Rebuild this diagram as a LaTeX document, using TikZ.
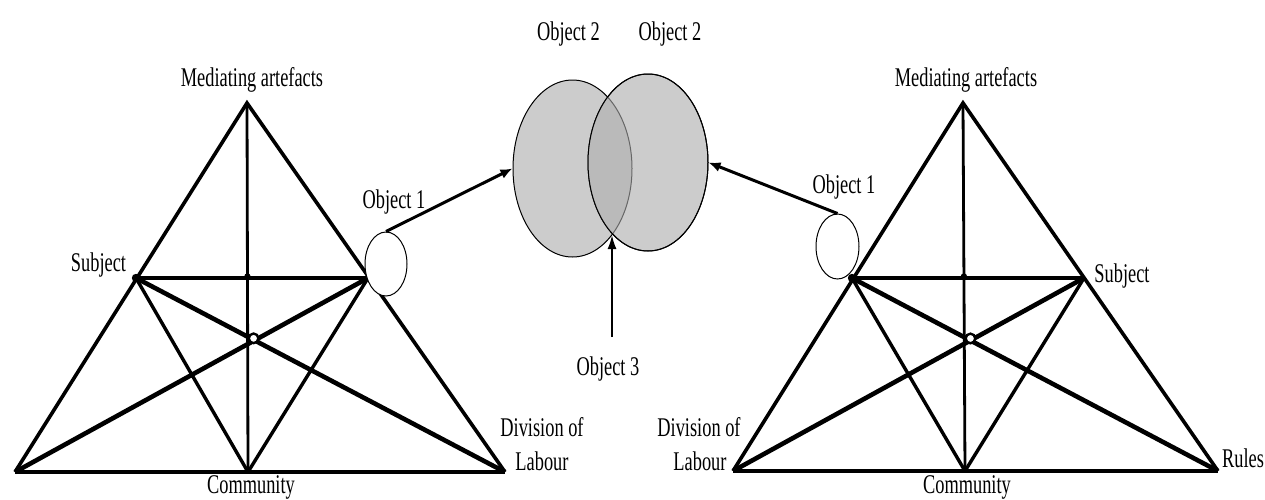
\documentclass[tikz,border=0pt]{standalone}
\usepackage{fontspec}
\newfontfamily\labfont{Liberation Serif}[FakeStretch=0.68]
\usetikzlibrary{shapes.geometric,arrows.meta}
\definecolor{objgray}{gray}{0.80}
\definecolor{ovgray}{gray}{0.73}
\definecolor{ovline}{gray}{0.40}
\begin{document}
\begin{tikzpicture}[x=0.5pt,y=-0.5pt,
  lab/.style={font=\labfont\fontsize{13.5}{16}\selectfont, inner sep=0pt, anchor=base},
  side/.style={line width=1.8pt, line join=miter},
  heavy/.style={line width=2.3pt},
  midline/.style={line width=1.7pt},
  vert/.style={line width=1.4pt},
  smallobj/.style={ellipse, draw, line width=0.5pt, fill=white, inner sep=0pt},
  bigobj/.style={ellipse, draw, line width=0.5pt, fill=objgray, inner sep=0pt, minimum height=88.5pt},
  arr/.style={line width=1.5pt, -{Latex[length=6pt,width=5pt]}},
  arrthin/.style={line width=1pt, -{Latex[length=7pt,width=4.5pt]}},
  bigdot/.style={fill=black},
  ring/.style={draw, line width=1.2pt, fill=white}]
\useasboundingbox (0,0) rectangle (1265,499);

% ---------- central objects ----------
\node[bigobj, minimum width=59.5pt] (bigL) at (572.5,168.5) {};
\node[bigobj, minimum width=60pt] (bigR) at (648,162.5) {};
\begin{scope}
  \clip (648,162.5) ellipse [x radius=30pt, y radius=44.25pt];
  \fill[ovgray] (572.5,168.5) ellipse [x radius=29.75pt, y radius=44.25pt];
  \draw[ovline, line width=0.5pt] (572.5,168.5) ellipse [x radius=29.75pt, y radius=44.25pt];
\end{scope}
\draw[line width=0.5pt] (648,162.5) ellipse [x radius=30pt, y radius=44.25pt];

% ---------- left triangle ----------
\coordinate (LA) at (247,103);
\coordinate (LBL) at (15,472);
\coordinate (LBR) at (505,472);
\coordinate (LC) at (248,472);
\coordinate (LS) at (136,278);
\coordinate (LO) at (368,278);

\draw[side] (LBL) -- (LA) -- (LBR);
\draw[heavy] (LBL) -- (LBR);
\draw[vert] (LA) -- (LC);
\draw[heavy] (LS) -- (LO);
\draw[heavy] (LS) -- (LBR);
\draw[heavy] (LO) -- (LBL);
\draw[midline] (LS) -- (LC);
\draw[midline] (LO) -- (LC);
\fill[bigdot] (LS) circle (2.1pt);
\fill[bigdot] (intersection of LA--LC and LS--LO) ++(0,-1.5) circle (1.6pt);
\fill[bigdot] (intersection of LS--LC and LO--LBL) circle (1.5pt);
\fill[bigdot] (intersection of LO--LC and LS--LBR) circle (1.5pt);
\draw[ring] (intersection of LS--LBR and LO--LBL) ++(-1,-2) circle (2.4pt);

% ---------- right triangle ----------
\coordinate (RA) at (963,103);
\coordinate (RBL) at (733,471);
\coordinate (RBR) at (1218,471);
\coordinate (RC) at (965,471);
\coordinate (RO) at (852,278);
\coordinate (RS) at (1084,278);

\draw[side] (RBL) -- (RA) -- (RBR);
\draw[heavy] (RBL) -- (RBR);
\draw[vert] (RA) -- (RC);
\draw[heavy] (RO) -- (RS);
\draw[heavy] (RO) -- (RBR);
\draw[heavy] (RS) -- (RBL);
\draw[midline] (RO) -- (RC);
\draw[midline] (RS) -- (RC);
\fill[bigdot] (RO) circle (2.1pt);
\fill[bigdot] (intersection of RA--RC and RO--RS) ++(0,-1.5) circle (1.6pt);
\fill[bigdot] (intersection of RO--RC and RS--RBL) circle (1.5pt);
\fill[bigdot] (intersection of RS--RC and RO--RBR) circle (1.5pt);
\draw[ring] (intersection of RO--RBR and RS--RBL) ++(0,-2) circle (2.4pt);

% ---------- object 1 ellipses ----------
\node[smallobj, minimum width=21pt, minimum height=32pt] (lob) at (386,264) {};
\node[smallobj, minimum width=21.5pt, minimum height=32.5pt] (rob) at (837.5,246.5) {};

% ---------- arrows ----------
\draw[arr] (lob.north) -- (bigL.west);
\draw[arr] (rob.north) -- (bigR.east);
\coordinate (o3tail) at (612,337);
\coordinate (o3head) at (612,235);
\draw[arrthin] (o3tail) -- (o3head);

% ---------- labels ----------
\node[lab] (lmed) at (252,86) {Mediating artefacts};
\node[lab] (lsub) at (98.5,271) {Subject};
\node[lab] (lobt) at (394,208) {Object 1};
\node[lab] (lcom) at (251,493) {Community};
\node[lab] (ldiv) at (542,436) {Division of};
\node[lab] (llab) at (542,470) {Labour};

\node[lab] (ob2a) at (568.5,40) {Object 2};
\node[lab] (ob2b) at (670,40) {Object 2};
\node[lab] (ob3) at (608,375) {Object 3};

\node[lab] (rmed) at (966,86) {Mediating artefacts};
\node[lab] (robt) at (844,193) {Object 1};
\node[lab] (rsub) at (1122,282) {Subject};
\node[lab] (rrul) at (1243,467) {Rules};
\node[lab] (rcom) at (967,493) {Community};
\node[lab] (rdiv) at (699,436) {Division of};
\node[lab] (rlab) at (700,470) {Labour};
\end{tikzpicture}
\end{document}
